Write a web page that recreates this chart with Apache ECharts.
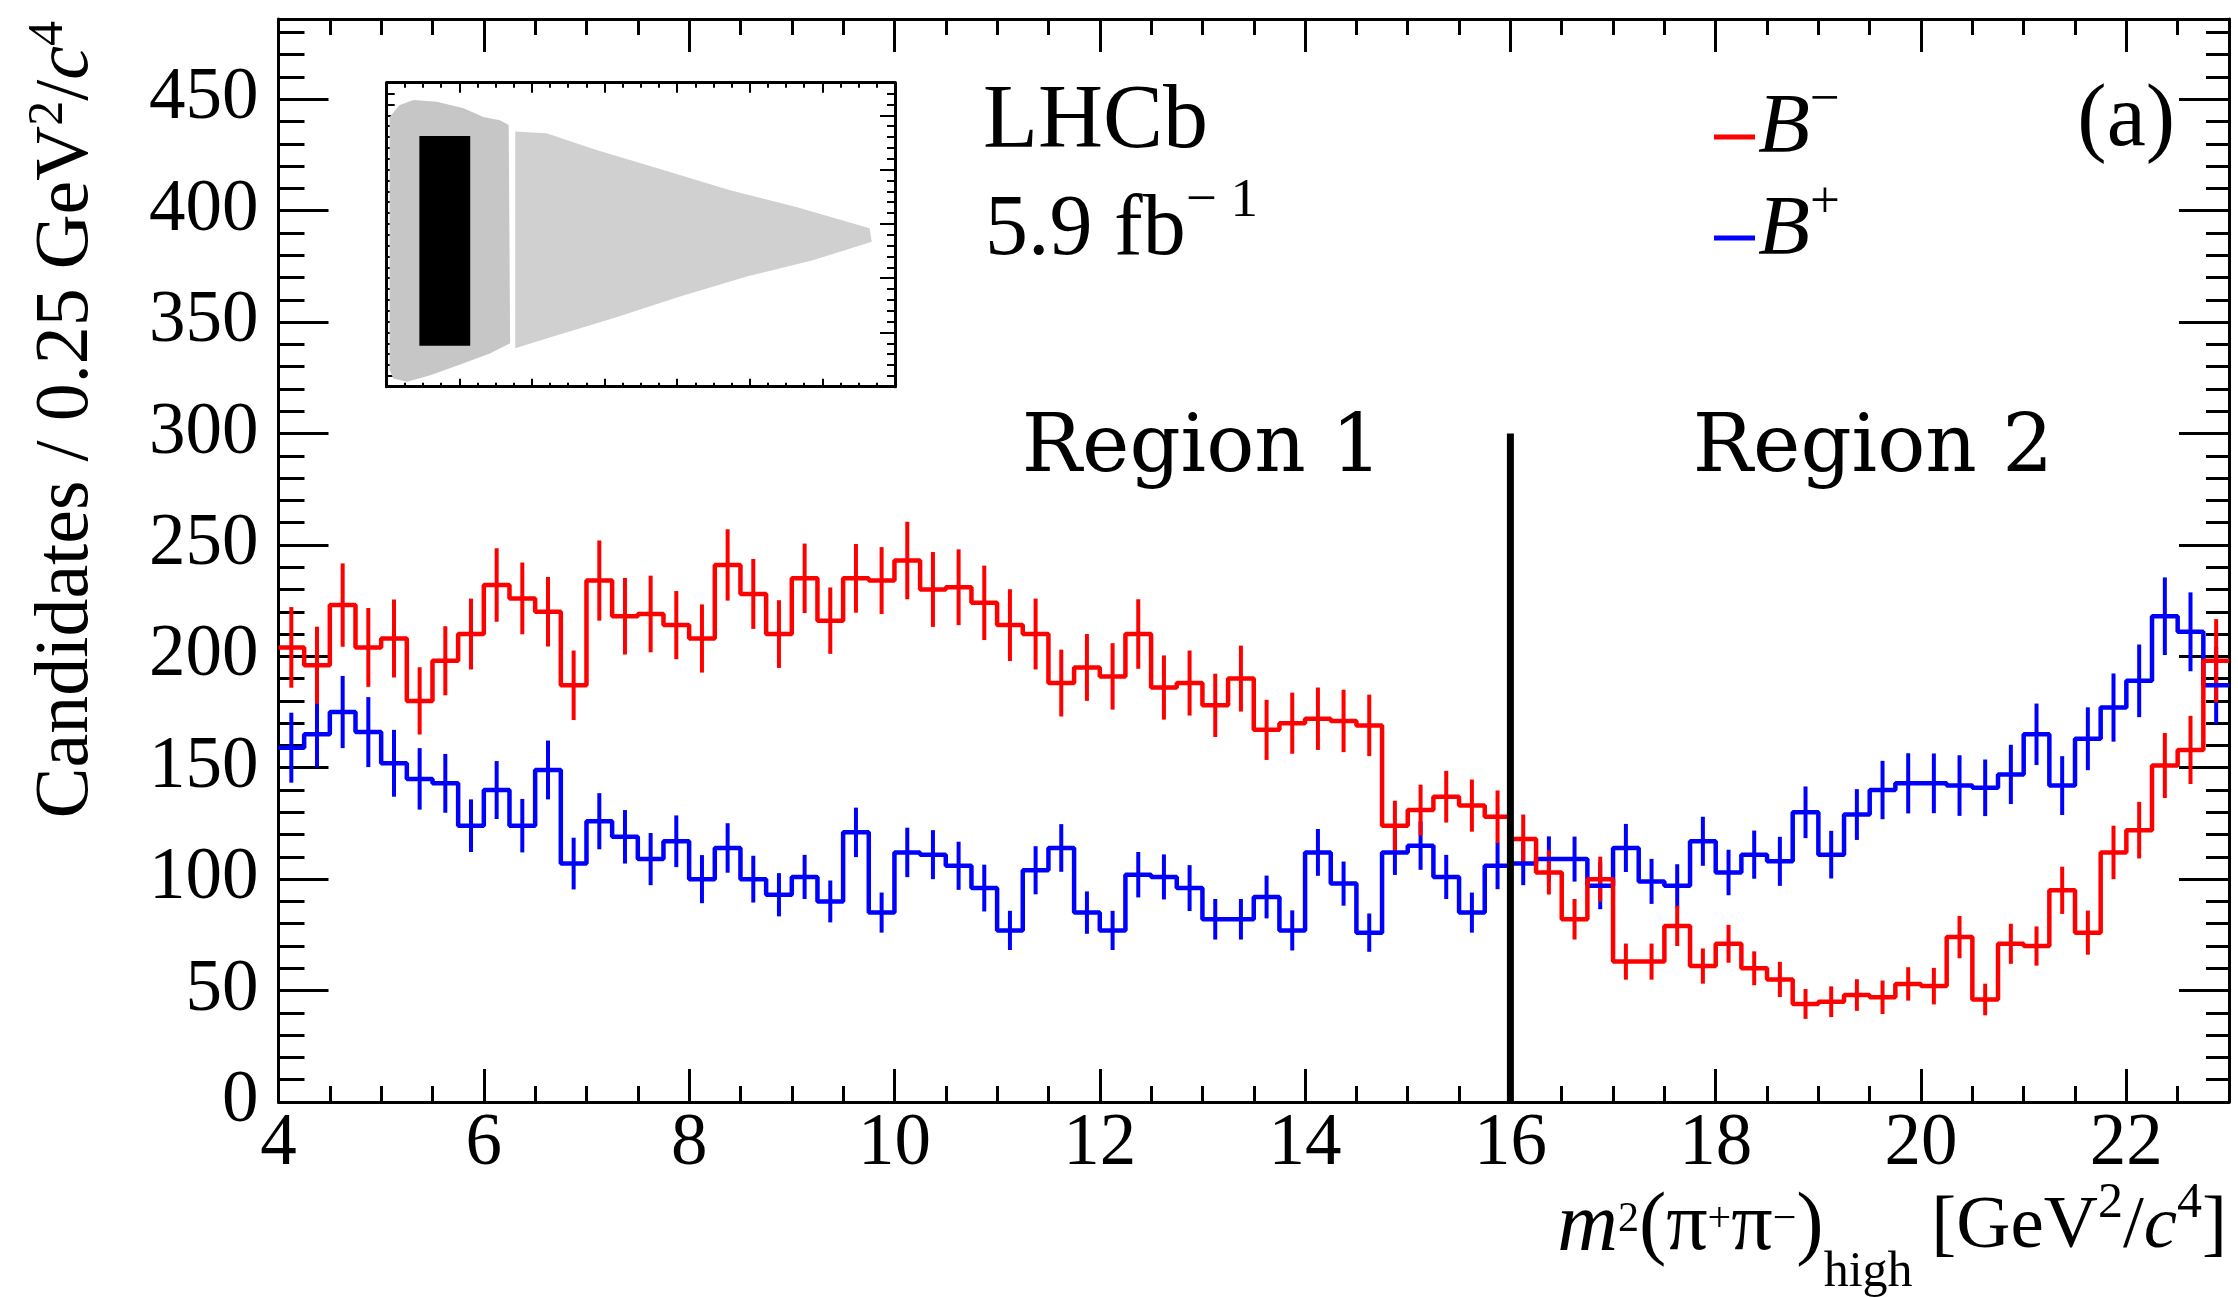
<!DOCTYPE html>
<html><head><meta charset="utf-8">
<script src="https://cdn.jsdelivr.net/npm/echarts@6/dist/echarts.min.js"></script>
<style>html,body{margin:0;padding:0;background:#fff}#c{width:2238px;height:1297px}</style>
</head><body><div id="c"></div>
<script>
// ---- data ----
const binEdges = [4,4.25,4.5,4.75,5,5.25,5.5,5.75,6,6.25,6.5,6.75,7,7.25,7.5,7.75,8,8.25,8.5,8.75,9,9.25,9.5,9.75,10,10.25,10.5,10.75,11,11.25,11.5,11.75,12,12.25,12.5,12.75,13,13.25,13.5,13.75,14,14.25,14.5,14.75,15,15.25,15.5,15.75,16,16.25,16.5,16.75,17,17.25,17.5,17.75,18,18.25,18.5,18.75,19,19.25,19.5,19.75,20,20.25,20.5,20.75,21,21.25,21.5,21.75,22,22.25,22.5,22.75,23];
const bMinus = [204,196,223,204,208,180,198,210,232,226, 220,187,234,218,219,214,208,241,228,210, 235,216,235,234,243,230,231,224,214,210, 188,195,191,210,186,188,178,190,167,170, 172,171,169,124,131,137,133,128,118,103, 82,100,63,63,79,61,71,60,55,44, 45,48,47,53,52,74,46,71,70,95, 76,112,122,151,158,198];
const bMinusErr = [18.1,17.3,18.7,17.7,17.5,15.1,15.5,15.9,16.5,16.1, 15.6,15.6,18.0,17.2,17.2,15.3,15.3,16.0,15.7,15.2, 15.6,14.9,15.4,15.0,17.4,16.8,17.0,16.7,16.1,15.9, 15.0,15.0,14.9,15.6,14.4,14.6,14.2,14.8,13.5,13.7, 14.0,14.0,13.8,11.2,11.4,11.6,11.7,11.8,11.0,9.9, 9.1,10.1,8.1,8.1,9.0,7.9,8.5,7.6,7.9,6.7, 6.9,7.1,7.5,7.5,8.2,9.5,7.1,9.0,8.8,10.6, 9.9,12.0,12.7,14.6,15.3,18.7];
const bPlus = [159,165,175,166,152,145,143,124,140,124, 149,107,126,119,109,117,100,114,100,93, 101,90,121,85,112,111,106,96,77,104, 114,85,77,102,101,96,82,82,92,77, 112,98,76,112,115,101,85,106,107,109, 109,97,114,99,97,117,103,111,108,130, 111,129,140,143,143,142,141,147,165,142, 163,177,189,218,211,187];
const bPlusErr = [15.7,14.8,16.2,15.7,15.0,13.8,13.2,11.8,13.0,12.0, 13.2,11.6,12.6,12.0,11.7,11.6,10.8,11.1,10.5,9.7, 9.9,9.4,11.1,9.0,11.1,11.0,10.8,10.5,8.8,10.8, 10.7,9.5,8.8,10.2,10.1,10.3,9.1,9.1,9.6,9.0, 10.5,9.9,8.6,10.1,10.8,9.9,9.0,10.5,9.7,10.2, 10.1,10.5,10.8,10.1,9.7,11.0,10.2,10.8,11.0,11.6, 10.7,11.4,13.1,13.5,13.4,13.6,12.7,13.3,13.8,13.2, 14.1,15.3,16.3,17.4,17.7,17.2];
const dividerX = [16, 16];
const dividerY = [0, 300];
const xRange = [4, 23];
const yRange = [0, 486];
const xMajor = 2, xMinor = 0.5, yMajor = 50, yMinor = 10;
// inset (Dalitz-plot thumbnail) outline, in its own units
const insetRangeX = [0, 7], insetRangeY = [0, 5.6];
const blobX = [0.04,0.18,0.37,0.69,1.06,1.33,1.56,1.68,1.70,1.42,1.06,0.60,0.28,0.09,0.04];
const blobY = [4.97,5.19,5.28,5.25,5.13,4.97,4.91,4.82,0.80,0.61,0.43,0.21,0.09,0.15,0.31];
const triX = [1.77,2.20,2.89,3.81,4.73,5.64,6.65,6.68,5.87,4.96,4.04,3.12,2.20,1.77];
const triY = [4.70,4.67,4.36,3.99,3.62,3.31,2.92,2.67,2.33,2.03,1.66,1.26,0.89,0.71];
const boxX = [0.45,1.15,1.15,0.45];
const boxY = [4.62,4.62,0.755,0.755];

// ---- build ----
const RED = '#ff0000', BLUE = '#0000ff';
const SERIF = 'Liberation Serif';
function stepData(vals){ const d = vals.map((v,i)=>[binEdges[i], v]); d.push([binEdges[vals.length], vals[vals.length-1]]); return d; }
function errData(vals, errs){ return vals.map((v,i)=>[(binEdges[i]+binEdges[i+1])/2, v, errs[i]]); }
const insetShapes = [
  {x: blobX, y: blobY, color: '#c6c6c6'},
  {x: triX, y: triY, color: '#d0d0d0'},
  {x: boxX, y: boxY, color: '#000000'}
];
function axis(grid, pos, min, max, interval, tickLen, opts){
  opts = opts || {};
  return {
    type: 'value', gridIndex: grid, position: pos, min: min, max: max, interval: interval,
    axisLine: {show: !!opts.line, onZero: false, lineStyle: {color: '#000', width: opts.lineWidth || 3}},
    axisTick: {show: true, inside: true, length: tickLen, lineStyle: {color: '#000', width: opts.tickWidth || 3}},
    axisLabel: opts.label ? Object.assign({show: true, color: '#000', fontFamily: SERIF, fontSize: 73, showMaxLabel: false}, opts.label) : {show: false},
    splitLine: {show: false}, minorTick: {show: false}, minorSplitLine: {show: false},
    silent: true
  };
}
function errSeries(name, vals, errs, color){
  return {
    name: name, type: 'custom', xAxisIndex: 0, yAxisIndex: 0, silent: true,
    data: errData(vals, errs), encode: {x: 0, y: 1},
    renderItem: function(params, api){
      const x = api.value(0), v = api.value(1), e = api.value(2);
      const p1 = api.coord([x, v - e]), p2 = api.coord([x, v + e]);
      return {type: 'line', shape: {x1: p1[0], y1: p1[1], x2: p2[0], y2: p2[1]}, style: {stroke: color, lineWidth: 4}};
    }
  };
}
function stepSeries(name, vals, color){
  return {name: name, type: 'line', step: 'end', xAxisIndex: 0, yAxisIndex: 0, data: stepData(vals),
    symbol: 'none', silent: true, lineStyle: {color: color, width: 4.5}, itemStyle: {color: color}};
}

const chart = echarts.init(document.getElementById('c'), null, {renderer: 'canvas'});
chart.setOption({
  animation: false,
  backgroundColor: '#fff',
  grid: [
    {left: 278.5, top: 19, width: 1950.5, height: 1083, outerBoundsMode: 'none', containLabel: false},
    {left: 386.7, top: 82.7, width: 508.3, height: 304, outerBoundsMode: 'none', containLabel: false}
  ],
  xAxis: [
    axis(0, 'bottom', xRange[0], xRange[1], xMajor, 33, {line: true, label: {margin: 6}}),
    axis(0, 'bottom', xRange[0], xRange[1], xMinor, 16),
    axis(0, 'top', xRange[0], xRange[1], xMajor, 33, {line: true}),
    axis(0, 'top', xRange[0], xRange[1], xMinor, 16),
    axis(1, 'bottom', insetRangeX[0], insetRangeX[1], 1, 8, {line: true, tickWidth: 2}),
    axis(1, 'bottom', insetRangeX[0], insetRangeX[1], 0.25, 4, {tickWidth: 2}),
    axis(1, 'top', insetRangeX[0], insetRangeX[1], 1, 10, {line: true, tickWidth: 2}),
    axis(1, 'top', insetRangeX[0], insetRangeX[1], 0.25, 5, {tickWidth: 2})
  ],
  yAxis: [
    axis(0, 'left', yRange[0], yRange[1], yMajor, 50, {line: true, label: {margin: 20}}),
    axis(0, 'left', yRange[0], yRange[1], yMinor, 26),
    axis(0, 'right', yRange[0], yRange[1], yMajor, 50, {line: true}),
    axis(0, 'right', yRange[0], yRange[1], yMinor, 23),
    axis(1, 'left', insetRangeY[0], insetRangeY[1], 1, 16, {line: true, tickWidth: 2}),
    axis(1, 'left', insetRangeY[0], insetRangeY[1], 0.2, 8, {tickWidth: 2}),
    axis(1, 'right', insetRangeY[0], insetRangeY[1], 1, 15, {line: true, tickWidth: 2}),
    axis(1, 'right', insetRangeY[0], insetRangeY[1], 0.2, 8, {tickWidth: 2})
  ],
  series: [
    {
      name: 'inset', type: 'custom', xAxisIndex: 4, yAxisIndex: 4, silent: true,
      data: insetShapes.map((s, i) => [i, 0]), encode: {x: 0, y: 1},
      renderItem: function(params, api){
        const s = insetShapes[params.dataIndex];
        const pts = s.x.map((x, i) => api.coord([x, s.y[i]]));
        return {type: 'polygon', shape: {points: pts}, style: {fill: s.color}};
      }
    },
    stepSeries('B+', bPlus, BLUE),
    errSeries('B+', bPlus, bPlusErr, BLUE),
    stepSeries('B−', bMinus, RED),
    errSeries('B−', bMinus, bMinusErr, RED),
    {name: 'divider', type: 'line', xAxisIndex: 0, yAxisIndex: 0, z: 5, silent: true, symbol: 'none',
     data: dividerX.map((x, i) => [x, dividerY[i]]), lineStyle: {color: '#000', width: 7}}
  ],
  graphic: [
    // y-axis title
    {type: 'text', x: 67.4, y: 21, rotation: Math.PI / 2, z: 10, silent: true,
     style: {text: 'Candidates / 0.25 GeV{s|2}/{i|c}{s|4}', fontSize: 76, fontFamily: SERIF, fill: '#000',
       lineHeight: 88, align: 'right', verticalAlign: 'middle',
       rich: {s: {fontSize: 50, fontFamily: SERIF, verticalAlign: 'top', lineHeight: 88, fill: '#000'},
              i: {fontSize: 76, fontFamily: SERIF, fontStyle: 'italic', lineHeight: 88, fill: '#000'}}}},
    // x-axis title
    {type: 'text', x: 2227, y: 1227.7, z: 10, silent: true,
     style: {text: '{i|m}{s1|2}{p|(π}{s1|+}{p|π}{s1|−}{p|)}{sub|high} [GeV{s2|2}/{ic|c}{s2|4}]', fontSize: 75, fontFamily: SERIF,
       fill: '#000', lineHeight: 141, align: 'right', verticalAlign: 'middle',
       rich: {i: {fontSize: 84, fontFamily: SERIF, fontStyle: 'italic', lineHeight: 141, fill: '#000'},
              ic: {fontSize: 75, fontFamily: SERIF, fontStyle: 'italic', lineHeight: 141, fill: '#000'},
              p: {fontSize: 82, fontFamily: SERIF, lineHeight: 141, fill: '#000'},
              s1: {fontSize: 42, fontFamily: SERIF, verticalAlign: 'top', padding: [42, 0, 0, 0], lineHeight: 141, fill: '#000'},
              s2: {fontSize: 50, fontFamily: SERIF, verticalAlign: 'top', padding: [22, 0, 0, 0], lineHeight: 141, fill: '#000'},
              sub: {fontSize: 50, fontFamily: SERIF, verticalAlign: 'bottom', lineHeight: 141, fill: '#000'}}}},
    // LHCb labels
    {type: 'text', x: 983, y: 123.6, z: 10, silent: true,
     style: {text: 'LHCb', fontSize: 90, fontFamily: SERIF, fill: '#000', align: 'left', verticalAlign: 'middle'}},
    {type: 'text', x: 985, y: 231, z: 10, silent: true,
     style: {text: '5.9 fb{s|− 1}', fontSize: 86, fontFamily: SERIF, fill: '#000', lineHeight: 114, align: 'left', verticalAlign: 'middle',
       rich: {s: {fontSize: 55, fontFamily: SERIF, verticalAlign: 'top', lineHeight: 114, fill: '#000'}}}},
    {type: 'text', x: 2175, y: 121.8, z: 10, silent: true,
     style: {text: '(a)', fontSize: 88, fontFamily: SERIF, fill: '#000', align: 'right', verticalAlign: 'middle'}},
    // legend
    {type: 'line', z: 10, silent: true, shape: {x1: 1714, y1: 137, x2: 1755, y2: 137}, style: {stroke: RED, lineWidth: 5}},
    {type: 'line', z: 10, silent: true, shape: {x1: 1714, y1: 238, x2: 1755, y2: 238}, style: {stroke: BLUE, lineWidth: 5}},
    {type: 'text', x: 1758, y: 129.3, z: 10, silent: true,
     style: {text: '{b|B}{s|−}', lineHeight: 109, align: 'left', verticalAlign: 'middle', fontSize: 85, fontFamily: SERIF, fill: '#000',
       rich: {b: {fontSize: 85, fontFamily: SERIF, fontStyle: 'italic', lineHeight: 109, fill: '#000'},
              s: {fontSize: 53, fontFamily: SERIF, verticalAlign: 'top', lineHeight: 109, fill: '#000'}}}},
    {type: 'text', x: 1758, y: 231.3, z: 10, silent: true,
     style: {text: '{b|B}{s|+}', lineHeight: 109, align: 'left', verticalAlign: 'middle', fontSize: 85, fontFamily: SERIF, fill: '#000',
       rich: {b: {fontSize: 85, fontFamily: SERIF, fontStyle: 'italic', lineHeight: 109, fill: '#000'},
              s: {fontSize: 53, fontFamily: SERIF, verticalAlign: 'top', lineHeight: 109, fill: '#000'}}}},
    // region labels
    {type: 'text', x: 1202, y: 450, z: 10, silent: true,
     style: {text: 'Region 1', fontSize: 80, fontFamily: 'DejaVu Serif', fill: '#000', align: 'center', verticalAlign: 'middle'}},
    {type: 'text', x: 1873, y: 450, z: 10, silent: true,
     style: {text: 'Region 2', fontSize: 80, fontFamily: 'DejaVu Serif', fill: '#000', align: 'center', verticalAlign: 'middle'}}
  ]
});
</script>
</body></html>
